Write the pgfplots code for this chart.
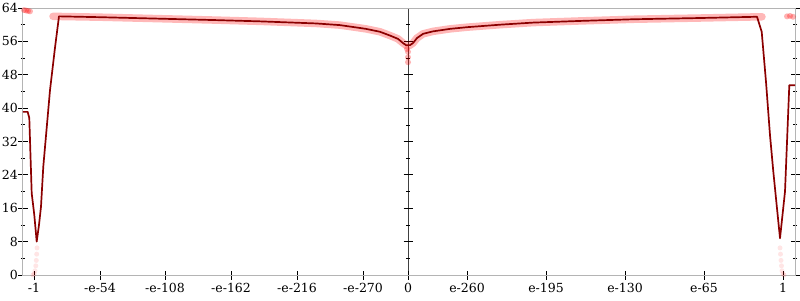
\documentclass[border=0pt]{standalone}
\usepackage{pgfplots}
\pgfplotsset{compat=1.18}
\usepackage{fontspec}
\setmainfont{DejaVu Serif}
\definecolor{linered}{HTML}{8B0000}
\definecolor{axgray}{HTML}{B4B4B4}
\begin{document}
\begin{tikzpicture}[x=1pt,y=1pt]
\draw[black!75, line width=0.8pt] (385,0) -- (385,267);
\foreach \v in {0,8,...,64} {\draw[black, line width=0.8pt] (380.5,{\v*4.171875}) -- (389.5,{\v*4.171875});}
\foreach \v in {4,12,...,60} {\draw[black, line width=0.6pt] (383,{\v*4.171875}) -- (387,{\v*4.171875});}
\begin{axis}[
 at={(0,0)}, anchor=south west,
 scale only axis, width=772pt, height=267pt,
 xmin=23, xmax=795, ymin=0, ymax=64,
 axis line style={axgray, line width=1pt},
 xtick={34,100,165,231,297,363,408,467,546,625,704,783},
 xticklabels={-1,-e-54,-e-108,-e-162,-e-216,-e-270,0,e-260,e-195,e-130,e-65,1},
 ytick={0,8,...,64},
 minor y tick num=1,
 tick align=center,
 xtick pos=left,
 ytick pos=both,
 major tick length=9pt, minor tick length=4pt,
 every tick/.style={black, line width=0.8pt},
 tick label style={font=\fontsize{12.5}{15}\selectfont},
 yticklabel style={inner xsep=0.5pt},
 /pgf/number format/assume math mode=true,
 clip=false,
]
% faint band of samples
\addplot[red, opacity=0.28, line width=7.5pt, line cap=round] coordinates {
(53,62.0) (100,61.8) (150,61.5) (216,61.1) (260,60.8) (316,60.3) (340,59.9) (366,59.0) (380,58.3) (390,57.4) (398,56.6) (403,55.6) (406,55.1) (410,55.1) (413,55.6) (417,56.8) (423,57.8) (433,58.4) (450,59.0) (467,59.4) (500,60.0) (533,60.5) (580,60.9) (633,61.3) (700,61.6) (762,61.9)
};
\addplot[only marks, mark=*, mark size=3pt, red, opacity=0.3, draw opacity=0] coordinates {
(24,63.5) (26,63.4) (28,63.3) (30,63.2)
(787,62.0) (790,62.1) (793,61.9)
(408,53.5) (408,52.2) (408,51.0) (407,54.2)
};
\addplot[only marks, mark=*, mark size=2.5pt, red, opacity=0.1, draw opacity=0] coordinates {
(37,6.5) (36.7,5) (36.3,3.5) (35.8,2.2) (35,1.0) (34.2,0.3) (33,0)
(780,6.5) (780.5,5) (781,3.5) (781.5,2.2) (782,1.0) (783,0.3) (784,0)
};
% main line
\addplot[linered, line width=1.7pt, line join=round] coordinates {
(23,39.1) (27.7,39.1) (29.3,37.6) (31.7,19.6) (34.3,14.4) (36.7,8.0) (39,12) (41,16.4) (43.3,26) (50,44.3) (55,54.5) (59,62.0)
(100,61.8) (150,61.5) (216,61.1) (260,60.8) (316,60.3) (340,59.9) (366,59.0) (380,58.3) (390,57.4) (398,56.6) (403,55.6) (406,55.1) (410,55.1) (413,55.6) (417,56.8) (423,57.8) (433,58.4) (450,59.0) (467,59.4) (500,60.0) (533,60.5) (580,60.9) (633,61.3) (700,61.6) (757,61.9)
(761.7,58.3) (766,46.3) (770,33.5) (773.3,24.8) (780,8.8) (785,20) (789.3,45.5) (795,45.5)
};
\end{axis}
\pgfresetboundingbox
\path (-23,-25) rectangle (777,275);
\end{tikzpicture}
\end{document}
